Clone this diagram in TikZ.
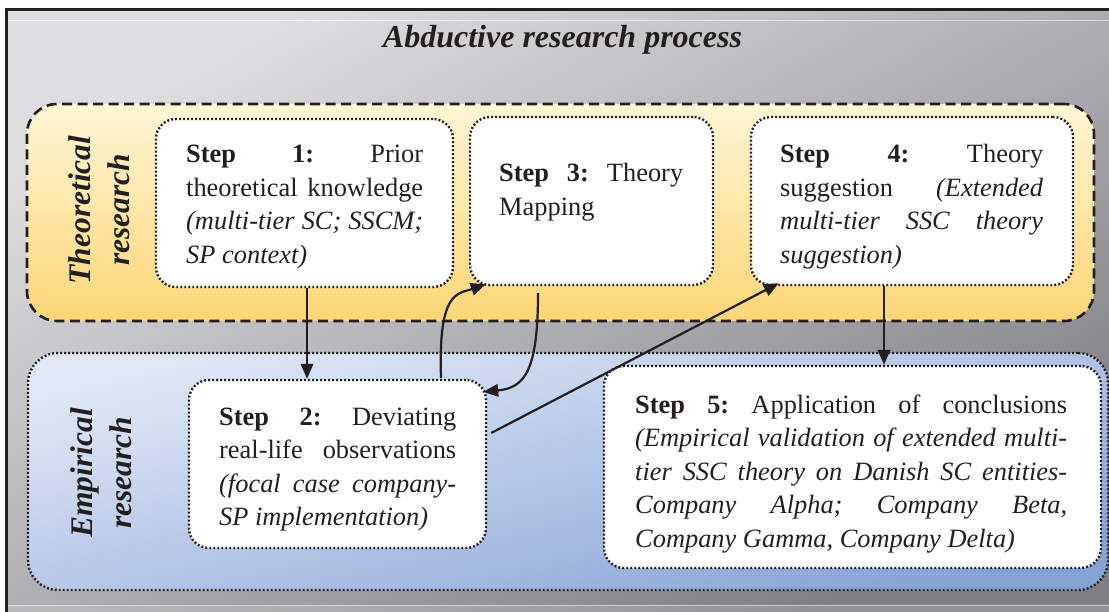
\documentclass[tikz,border=0pt]{standalone}
\usepackage{fontspec}
\setmainfont{Liberation Serif}
\usetikzlibrary{arrows.meta,calc}
\definecolor{ink}{RGB}{35,31,32}
\definecolor{bgA}{RGB}{222,222,224}
\definecolor{bgB}{RGB}{128,128,131}
\definecolor{yelA}{RGB}{255,246,214}
\definecolor{yelB}{RGB}{252,214,118}
\definecolor{bluA}{RGB}{224,232,246}
\definecolor{bluB}{RGB}{134,163,214}
\newcommand{\jl}[2]{\makebox[#1][s]{#2}}
\begin{document}
\begin{tikzpicture}[x=1pt,y=-1pt,
  dotline/.style={draw=ink, line width=2.4pt, dash pattern=on 1.9pt off 2.1pt},
  stepbox/.style={dotline, fill=white, rounded corners=20pt, inner sep=0pt},
  theoband/.style={draw=ink, line width=2.6pt, dash pattern=on 10pt off 5.5pt,
    rounded corners=30pt, top color=yelA, bottom color=yelB, inner sep=0pt},
  empband/.style={dotline, rounded corners=30pt, top color=bluA, bottom color=bluB,
    shading angle=14, inner sep=0pt},
  txt/.style={anchor=base west, inner sep=0pt, align=left, text=ink,
    font=\fontsize{26.4}{33.5}\selectfont\frenchspacing},
  sidelabel/.style={rotate=90, align=center, text=ink, inner sep=0pt,
    font=\fontsize{31.5}{39}\selectfont\bfseries\itshape},
  arr/.style={draw=ink, line width=2.2pt, -{Triangle[length=15pt,width=12.5pt]}}
]
\useasboundingbox (0,0) rectangle (1109,612);
% frame and background
\fill[white] (0,0) rectangle (1109,612);
\shade[top color=bgA, bottom color=bgB, shading angle=29] (6.5,9.5) rectangle (1109,612);
\draw[white, opacity=0.55, line width=1pt] (8,20.5) -- (1109,20.5);
\fill[white, opacity=0.15] (8,605) rectangle (1109,612);
\draw[white, opacity=0.5, line width=1pt] (8,605.5) -- (1109,605.5);
\draw[ink, line width=3pt] (6.5,612) -- (6.5,9.5) -- (1109,9.5);

% title
\node[anchor=base, text=ink, inner sep=0pt, font=\fontsize{32}{38}\selectfont\bfseries\itshape]
  (title) at (562.5,48) {Abductive research process};

% bands
\node[theoband, minimum width=1067pt, minimum height=217pt] (theo) at (560.5,212.5) {};
\node[empband, minimum width=1080pt, minimum height=237pt] (emp) at (568,471.5) {};

% side labels
\node[sidelabel] (thlab) at (99,210) {Theoretical\\research};
\node[sidelabel] (emlab) at (101,473) {Empirical\\research};

% step boxes
\node[stepbox, minimum width=297pt, minimum height=168pt] (s1) at (304.5,203) {};
\node[stepbox, minimum width=297pt, minimum height=168pt] (s2) at (337.5,464) {};
\node[stepbox, minimum width=243pt, minimum height=168pt] (s3) at (591.5,201) {};
\node[stepbox, minimum width=322pt, minimum height=168pt] (s4) at (912,201) {};
\node[stepbox, minimum width=497pt, minimum height=202pt] (s5) at (852.5,467) {};

% texts (anchor = baseline of the last line)
\node[txt] (t1) at (186,263.5) {\jl{237pt}{\textbf{Step 1:} Prior}\\
  \jl{237pt}{theoretical knowledge}\\
  \jl{237pt}{\textit{(multi-tier SC; SSCM;}}\\
  \textit{SP context)}};
\node[txt] (t2) at (219,525.5) {\jl{237pt}{\textbf{Step 2:} Deviating}\\
  \jl{237pt}{real-life observations}\\
  \jl{237pt}{\textit{(focal case company-}}\\
  \textit{SP implementation)}};
\node[txt] (t3) at (499,215.5) {\jl{184pt}{\textbf{Step 3:} Theory}\\
  Mapping};
\node[txt] (t4) at (780,263.5) {\jl{263pt}{\textbf{Step 4:} Theory}\\
  \jl{263pt}{suggestion \textit{(Extended}}\\
  \jl{263pt}{\textit{multi-tier SSC theory}}\\
  \textit{suggestion)}};
\node[txt] (t5) at (635,547) {\jl{432pt}{\textbf{Step 5:} Application of conclusions}\\
  \jl{432pt}{\textit{(Empirical validation of extended multi-}}\\
  \jl{432pt}{\textit{tier SSC theory on Danish SC entities-}}\\
  \jl{432pt}{\textit{Company Alpha; Company Beta,}}\\
  \textit{Company Gamma, Company Delta)}};

% connectors
\draw[arr] ([xshift=2.5pt]s1.south) -- ([xshift=2.5pt]s1.south |- s2.north);
\draw[arr] ([xshift=-28pt]s4.south) -- ([xshift=-28pt]s4.south |- s5.north);
\draw[arr] ([xshift=103.5pt,yshift=1pt]s2.north) .. controls (438,290) and (458,294) .. ($(s3.south west)+(17,-2)$);
\draw[arr] ([xshift=-53.5pt,yshift=-7pt]s3.south) .. controls (538,370) and (525,388) .. ($(s2.north east)+(-4,13)$);
\draw[arr] ($(s2.east)+(4,-31)$) -- ($(s4.south west)+(29,-3)$);
\end{tikzpicture}
\end{document}
